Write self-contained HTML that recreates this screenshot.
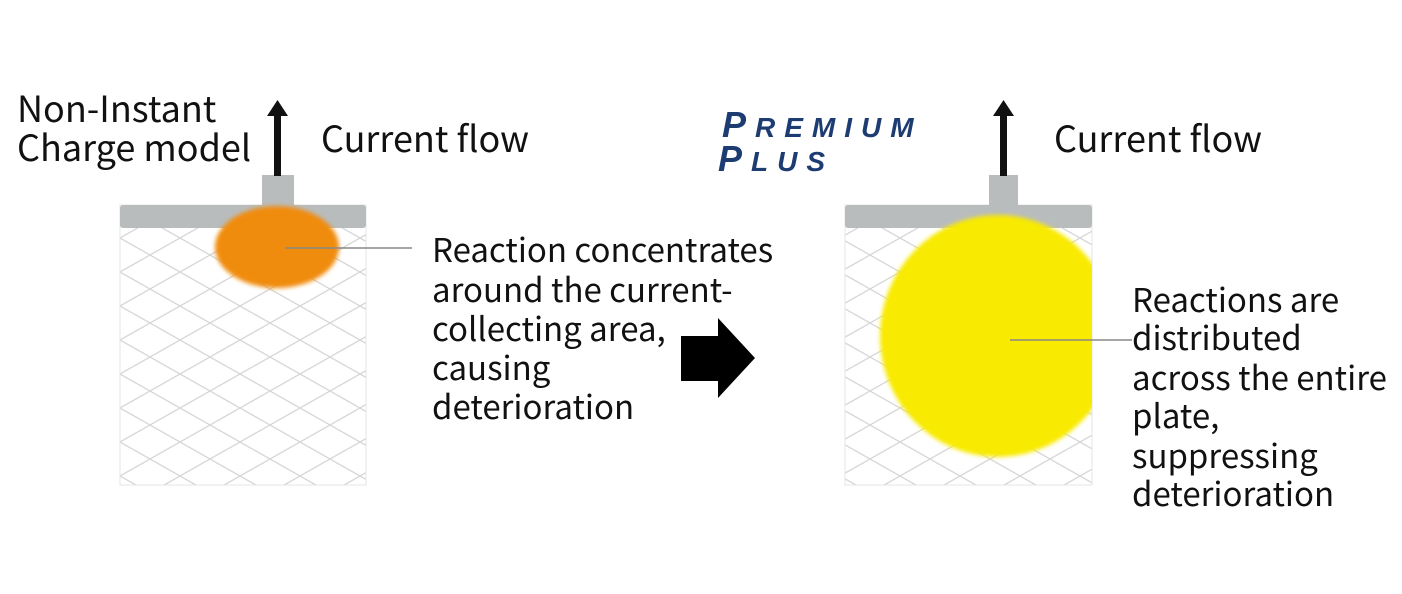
<!DOCTYPE html>
<html><head><meta charset="utf-8"><style>
body{margin:0;width:1402px;height:594px;background:#fff;overflow:hidden}
svg{display:block}
text{font-family:"Noto Sans CJK JP","Liberation Sans",sans-serif;font-size:33px;fill:#111}
.h{font-size:36px}
.pp{font-family:"Liberation Sans",sans-serif;font-style:italic;font-weight:bold;fill:#1d3c72;letter-spacing:9px}
</style></head><body>
<svg width="1402" height="594" viewBox="0 0 1402 594">
<defs>
<pattern id="g" width="60" height="34" patternUnits="userSpaceOnUse">
<path d="M0 0L60 34M60 0L0 34M-30 17L0 34M30 -17L90 17" stroke="#d6d6d6" stroke-width="1.3" fill="none"/>
</pattern>
<filter id="b"><feGaussianBlur stdDeviation="2"/></filter>
</defs>
<rect x="120" y="205" width="246" height="280" fill="url(#g)" stroke="#e4e4e4"/>
<rect x="120" y="205" width="246" height="23" rx="3" fill="#b9bcbd"/>
<rect x="262" y="175" width="32" height="31" fill="#b9bcbd"/>
<rect x="274" y="112" width="7" height="64" fill="#111"/>
<path d="M267 116L277.5 100L288 116Z" fill="#111"/>
<ellipse cx="277" cy="247" rx="62" ry="41" fill="#f08c10" filter="url(#b)"/>
<line x1="285" y1="248" x2="412" y2="248" stroke="#888" stroke-width="1.5"/>
<rect x="845" y="205" width="247" height="280" fill="url(#g)" stroke="#e4e4e4"/>
<rect x="845" y="205" width="247" height="23" rx="3" fill="#b9bcbd"/>
<rect x="989" y="175" width="29" height="31" fill="#b9bcbd"/>
<rect x="1000" y="112" width="7" height="64" fill="#111"/>
<path d="M993 116L1003.5 100L1014 116Z" fill="#111"/>
<clipPath id="c"><rect x="845" y="205" width="247" height="280"/></clipPath>
<ellipse cx="998" cy="336" rx="118" ry="121" fill="#f8ea00" filter="url(#b)" clip-path="url(#c)"/>
<line x1="1010" y1="340" x2="1132" y2="340" stroke="#888" stroke-width="1.5"/>
<path d="M681 336H718V318L755 358L718 398V381H681Z" fill="#000"/>
<text class="h" x="17" y="122">Non-Instant</text>
<text class="h" x="17" y="161">Charge model</text>
<text class="h" x="321" y="152">Current flow</text>
<text class="h" x="1054" y="152">Current flow</text>
<text x="432" y="262">Reaction concentrates</text>
<text x="432" y="302">around the current-</text>
<text x="432" y="341">collecting area,</text>
<text x="432" y="380">causing</text>
<text x="432" y="419">deterioration</text>
<text x="1132" y="312">Reactions are</text>
<text x="1132" y="350">distributed</text>
<text x="1132" y="390">across the entire</text>
<text x="1132" y="428">plate,</text>
<text x="1132" y="468">suppressing</text>
<text x="1132" y="506">deterioration</text>
<text class="pp" x="722" y="137" style="font-size:36px">P<tspan style="font-size:28px">REMIUM</tspan></text>
<text class="pp" x="718" y="171" style="font-size:36px">P<tspan style="font-size:28px">LUS</tspan></text>
</svg>
</body></html>
